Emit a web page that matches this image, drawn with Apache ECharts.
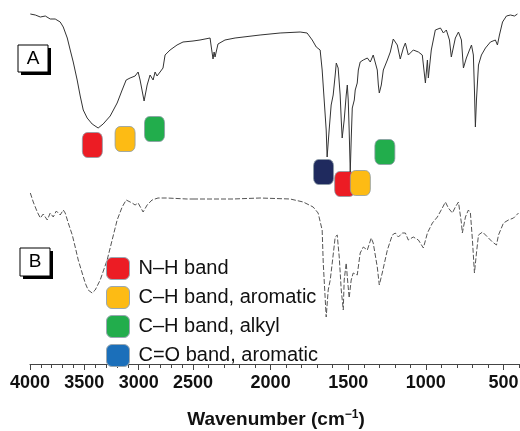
<!DOCTYPE html>
<html>
<head>
<meta charset="utf-8">
<script src="https://cdn.jsdelivr.net/npm/echarts@6/dist/echarts.min.js"></script>
<style>
  html, body { margin: 0; padding: 0; background: #fff; }
  #chart { width: 520px; height: 431px; }
</style>
</head>
<body>
<div id="chart"></div>
<script>
  // spectrum A (upper trace): wavenumber in cm-1, transmittance in offset a.u.
  var wnA = [3997, 3951, 3905, 3859, 3814, 3768, 3722, 3694, 3657, 3630, 3602, 3566, 3538, 3510, 3474, 3428,
    3373, 3327, 3262, 3198, 3152, 3115, 3079, 3033, 3005, 2987, 2950, 2922, 2895, 2867, 2849, 2831, 2803,
    2776, 2757, 2711, 2647, 2592, 2500, 2455, 2390, 2384, 2371, 2364, 2358, 2339, 2294, 2229, 2068, 1939,
    1810, 1765, 1732, 1706, 1694, 1681, 1668, 1655, 1642, 1636, 1623, 1610, 1597, 1584, 1577, 1565, 1552,
    1545, 1539, 1526, 1513, 1506, 1500, 1494, 1487, 1481, 1474, 1461, 1455, 1442, 1435, 1423, 1403, 1377,
    1358, 1339, 1313, 1306, 1300, 1287, 1274, 1248, 1229, 1210, 1184, 1165, 1145, 1132, 1113, 1081, 1048,
    1023, 1003, 990, 984, 965, 939, 906, 887, 868, 848, 836, 810, 790, 771, 758, 739, 719, 706, 694, 687,
    681, 674, 661, 642, 616, 584, 552, 539, 526, 506, 481, 455, 429, 410];
  var tA = [350, 349, 347, 348, 345, 345, 342, 337, 326, 314, 302, 284, 268, 254, 246, 240,
    236, 240, 248, 261, 274, 284, 286, 288, 292, 284, 263, 279, 289, 284, 292, 288, 292,
    296, 309, 314, 319, 322, 323, 324, 326, 319, 305, 312, 307, 320, 324, 326, 329, 331,
    332, 331, 324, 317, 319, 314, 294, 264, 234, 207, 234, 259, 269, 289, 301, 296, 269,
    244, 226, 244, 269, 279, 264, 234, 192, 224, 256, 264, 274, 281, 294, 302, 304, 306,
    302, 309, 294, 279, 271, 279, 294, 304, 312, 325, 319, 305, 316, 321, 309, 314, 312,
    309, 281, 304, 286, 314, 334, 336, 331, 334, 324, 307, 326, 332, 324, 296, 306, 314, 319, 309, 274,
    237, 264, 299, 309, 316, 322, 324, 319, 329, 342, 348, 349, 348, 350];

  // spectrum B (lower trace)
  var wnB = [3997, 3970, 3933, 3905, 3878, 3841, 3814, 3786, 3758, 3722, 3694, 3676, 3648, 3611, 3584, 3556,
    3520, 3492, 3465, 3428, 3400, 3354, 3290, 3244, 3198, 3152, 3115, 3060, 3033, 3005, 2959, 2922, 2877,
    2822, 2739, 2555, 2500, 2242, 2068, 1874, 1790, 1726, 1694, 1668, 1661, 1642, 1629, 1616, 1603, 1584,
    1571, 1558, 1545, 1532, 1526, 1513, 1506, 1494, 1481, 1468, 1442, 1423, 1403, 1377, 1352, 1339, 1313,
    1300, 1281, 1248, 1216, 1197, 1177, 1152, 1132, 1113, 1081, 1048, 1016, 990, 958, 926, 894, 874, 855,
    829, 810, 790, 771, 765, 745, 726, 713, 700, 687, 674, 661, 635, 603, 571, 545, 532, 500, 468, 435, 403];
  var tB = [171, 162, 152, 146, 150, 144, 151, 147, 153, 149, 154, 151, 141, 129, 117, 104,
    91, 81, 74, 71, 74, 84, 104, 124, 144, 157, 164, 161, 159, 161, 152, 159, 164,
    166, 166, 165, 165, 165, 166, 165, 162, 157, 151, 134, 101, 47, 74, 84, 101, 127,
    129, 107, 74, 54, 84, 101, 87, 66, 84, 91, 89, 111, 117, 114, 126, 121, 97,
    79, 91, 114, 129, 131, 127, 131, 131, 124, 127, 124, 116, 131, 141, 147, 156, 162, 156,
    151, 157, 162, 141, 131, 147, 154, 151, 124, 91, 111, 129, 132, 127, 122, 119, 129, 141, 144, 146, 151];

  // band markers placed on the spectra
  var bandNames = ['N\u2013H band', 'C\u2013H band, aromatic', 'C\u2013H band, alkyl', 'C=O band, aromatic'];
  var nhMarks = [[3426, 219], [1523, 180]];
  var chAroMarks = [[3125, 225], [1422, 181]];
  var chAlkMarks = [[2854, 235], [1264, 212]];
  var coMarks = [[1659, 192]];

  // axis ticks
  var labelsLeft = [4000, 3500, 3000];
  var labelsRight = [2500, 2000, 1500, 1000, 500];
  var minorLeft = [3900, 3800, 3700, 3600, 3400, 3300, 3200, 3100, 2900, 2800, 2700, 2600];
  var minorRight = [2400, 2300, 2200, 2100, 1900, 1800, 1700, 1600, 1400, 1300, 1200, 1100, 900, 800, 700, 600, 400];

  var FONT = 'Liberation Sans, Arial, sans-serif';
  var C_RED = '#ec1c24', C_YEL = '#fdbb14', C_GRN = '#22ad4c', C_NAVY = '#1f2a5e', C_BLUE = '#1b6fba';

  function part(wn, t, lo, hi) {
    var out = [];
    for (var i = 0; i < wn.length; i++) {
      if (wn[i] >= lo && wn[i] <= hi) out.push([wn[i], t[i]]);
    }
    return out;
  }
  function inRange(pts, lo, hi) {
    return pts.filter(function (p) { return p[0] >= lo && p[0] <= hi; });
  }

  var chart = echarts.init(document.getElementById('chart'));

  var markStyle = function (c) {
    return { color: c, borderColor: '#8c9ba6', borderWidth: 0.8, opacity: 1 };
  };

  function markerSeries(name, pts, color) {
    return [
      { name: name, type: 'scatter', xAxisIndex: 0, yAxisIndex: 0, symbol: 'roundRect', symbolSize: [20, 25],
        itemStyle: markStyle(color), data: inRange(pts, 2500, 4000), silent: true },
      { name: name, type: 'scatter', xAxisIndex: 1, yAxisIndex: 1, symbol: 'roundRect', symbolSize: [20, 25],
        itemStyle: markStyle(color), data: inRange(pts, 400, 2500), silent: true }
    ];
  }

  var lineA = { color: '#333', width: 1 };
  var lineB = { color: '#555', width: 1, type: [5, 2] };

  function mainAxis(gi, min, max, labels) {
    return {
      type: 'value', gridIndex: gi, min: min, max: max, inverse: true, position: 'bottom',
      splitLine: { show: false },
      axisLine: { show: true, onZero: false, lineStyle: { color: '#444', width: 1 } },
      axisTick: { show: true, customValues: labels, length: 6, lineStyle: { color: '#444' } },
      axisLabel: {
        customValues: labels, margin: 10, color: '#111', fontSize: 18, fontWeight: 'bold', fontFamily: FONT,
        formatter: function (v) { return String(v); }
      }
    };
  }
  function minorAxis(gi, min, max, ticks) {
    return {
      type: 'value', gridIndex: gi, min: min, max: max, inverse: true, position: 'bottom',
      splitLine: { show: false },
      axisLine: { show: false, onZero: false },
      axisTick: { show: true, customValues: ticks, length: 4, lineStyle: { color: '#444' } },
      axisLabel: { show: false }
    };
  }

  var series = [
    { name: 'A', type: 'line', xAxisIndex: 0, yAxisIndex: 0, showSymbol: false, lineStyle: lineA, data: part(wnA, tA, 2500, 4000) },
    { name: 'A', type: 'line', xAxisIndex: 1, yAxisIndex: 1, showSymbol: false, lineStyle: lineA, data: part(wnA, tA, 400, 2500) },
    { name: 'B', type: 'line', xAxisIndex: 0, yAxisIndex: 0, showSymbol: false, lineStyle: lineB, data: part(wnB, tB, 2500, 4000) },
    { name: 'B', type: 'line', xAxisIndex: 1, yAxisIndex: 1, showSymbol: false, lineStyle: lineB, data: part(wnB, tB, 400, 2500) }
  ]
    .concat(markerSeries(bandNames[3], coMarks, C_NAVY))
    .concat(markerSeries(bandNames[0], nhMarks, C_RED))
    .concat(markerSeries(bandNames[1], chAroMarks, C_YEL))
    .concat(markerSeries(bandNames[2], chAlkMarks, C_GRN));

  var legendColors = [C_RED, C_YEL, C_GRN, C_BLUE];

  chart.setOption({
    animation: false,
    backgroundColor: '#fff',
    grid: [
      { left: 30, top: 5, width: 163, height: 359, outerBoundsMode: 'none', containLabel: false },
      { left: 193, top: 5, width: 326, height: 359, outerBoundsMode: 'none', containLabel: false }
    ],
    xAxis: [
      mainAxis(0, 2500, 4000, labelsLeft),
      mainAxis(1, 400, 2500, labelsRight),
      minorAxis(0, 2500, 4000, minorLeft),
      minorAxis(1, 400, 2500, minorRight)
    ],
    yAxis: [
      { type: 'value', gridIndex: 0, min: 0, max: 359, show: false },
      { type: 'value', gridIndex: 1, min: 0, max: 359, show: false }
    ],
    legend: {
      orient: 'vertical', left: 101, top: 252, itemWidth: 23, itemHeight: 22, itemGap: 6,
      icon: 'roundRect', selectedMode: false,
      textStyle: { fontSize: 20, color: '#111', fontFamily: FONT, padding: [0, 0, 0, 4] },
      data: bandNames.map(function (n, i) {
        return { name: n, itemStyle: { color: legendColors[i], borderColor: '#9aa8b2', borderWidth: 1 } };
      })
    },
    graphic: [
      { type: 'rect', shape: { x: 21, y: 48, width: 30, height: 27 }, style: { fill: '#000' } },
      { type: 'rect', shape: { x: 18, y: 45, width: 30, height: 27 }, style: { fill: '#fff', stroke: '#000', lineWidth: 1 } },
      { type: 'text', x: 33, y: 59, style: { text: 'A', fontSize: 19, fontFamily: FONT, fill: '#000', align: 'center', verticalAlign: 'middle' } },
      { type: 'rect', shape: { x: 23, y: 251, width: 30, height: 28 }, style: { fill: '#000' } },
      { type: 'rect', shape: { x: 20, y: 248, width: 30, height: 28 }, style: { fill: '#fff', stroke: '#000', lineWidth: 1 } },
      { type: 'text', x: 35, y: 262, style: { text: 'B', fontSize: 19, fontFamily: FONT, fill: '#000', align: 'center', verticalAlign: 'middle' } },
      { type: 'text', x: 276, y: 420, style: {
          text: '{b|Wavenumber (cm}{s|\u22121}{b|)}', align: 'center', verticalAlign: 'middle', fill: '#111',
          rich: {
            b: { fontSize: 19, fontWeight: 'bold', fontFamily: FONT, lineHeight: 22 },
            s: { fontSize: 12, fontWeight: 'bold', fontFamily: FONT, verticalAlign: 'top', lineHeight: 12 }
          }
        } }
    ],
    series: series
  });
</script>
</body>
</html>
